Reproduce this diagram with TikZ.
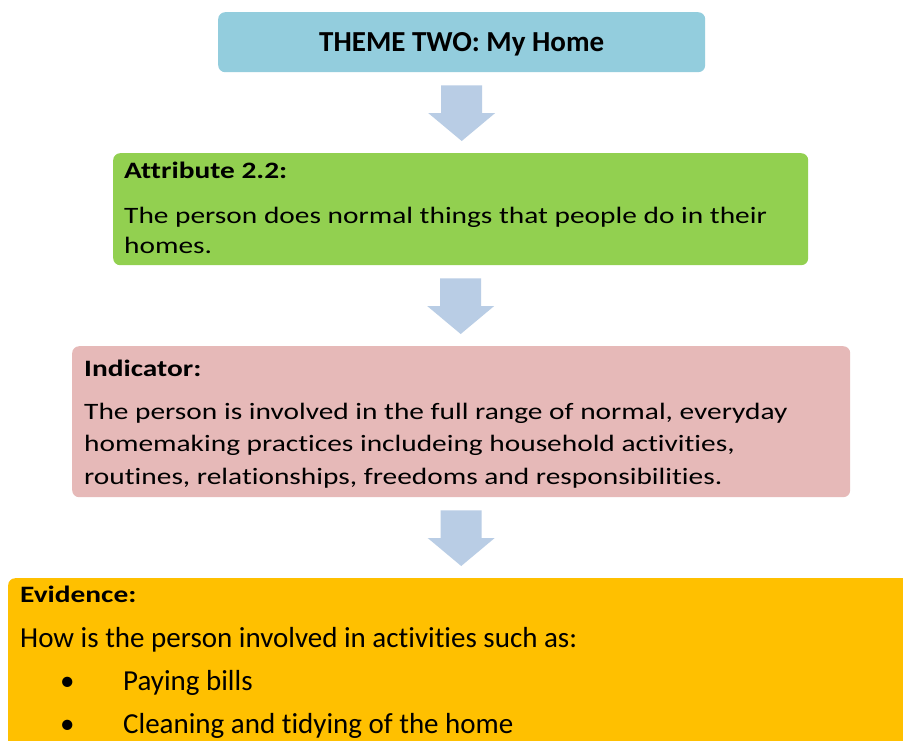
\documentclass[tikz,border=0pt]{standalone}
\usepackage{fontspec}
\setmainfont{Carlito}[Ligatures=NoCommon]
\newfontfamily\widefont{Carlito}[FakeStretch=1.25,Ligatures=NoCommon]
\usetikzlibrary{positioning,calc}
\definecolor{themeblue}{HTML}{93CDDD}
\definecolor{arrowblue}{HTML}{B9CDE5}
\definecolor{attrgreen}{HTML}{92D050}
\definecolor{indpink}{HTML}{E6B9B8}
\definecolor{evidorange}{HTML}{FFC000}
% block arrow from the bottom of one box to the top of the next
\newcommand{\blockarrow}[2]{%
  \fill[arrowblue] let \p1=($(#1.south)+(0,13)$), \p2=($(#2.north)+(0,-12)$) in
    (\x1-20.5pt,\y1) -- (\x1+20.5pt,\y1) -- (\x1+20.5pt,\y2+28pt)
    -- (\x1+33.5pt,\y2+28pt) -- (\x1,\y2) -- (\x1-33.5pt,\y2+28pt)
    -- (\x1-20.5pt,\y2+28pt) -- cycle;}
\begin{document}
\begin{tikzpicture}[x=1pt,y=-1pt,line join=round,
	box/.style={rounded corners=7pt,inner sep=0pt,anchor=north west},
	head/.style={anchor=base west,inner sep=0pt,font=\widefont\bfseries\fontsize{23.5}{30}\selectfont},
	body/.style={anchor=base west,inner sep=0pt,align=left,font=\widefont\fontsize{23.5}{30}\selectfont},
	]
	\useasboundingbox (0,0) rectangle (903,740);
	\clip (0,0) rectangle (903,740);
	\fill[white] (0,0) rectangle (903,740);
	% boxes
	\node[box,fill=themeblue,minimum width=487pt,minimum height=60pt] (theme) at (218,12) {};
	\node[box,fill=attrgreen,minimum width=695pt,minimum height=112pt] (attr) at (113,153) {};
	\node[box,fill=indpink,minimum width=778pt,minimum height=151pt] (ind) at (72,346) {};
	\node[box,fill=evidorange,minimum width=920pt,minimum height=190pt] (evid) at (8,578) {};
	% arrows
	\blockarrow{theme}{attr}
	\blockarrow{attr}{ind}
	\blockarrow{ind}{evid}
	% texts (multi-line nodes sit on the baseline of their last line)
	\node[anchor=base,inner sep=0pt,font=\bfseries\fontsize{29}{35}\selectfont] (themetitle)
		at ($(theme.center)+(0,9)$) {THEME TWO: My Home};
	\node[head] (attrhead) at ($(attr.north west)+(11,25)$) {Attribute 2.2:};
	\node[body] (attrbody) at ($(attr.north west)+(11,100)$)
		{The person does normal things that people do in their\\homes.};
	\node[head] (indhead) at ($(ind.north west)+(12,30)$) {Indicator:};
	\node[body,font=\widefont\fontsize{23.5}{32.5}\selectfont] (indbody) at ($(ind.north west)+(12,138)$)
		{The person is involved in the full range of normal, everyday\\
		homemaking practices includeing household activities,\\
		routines, relationships, freedoms and responsibilities.};
	\node[head] (evidhead) at ($(evid.north west)+(12,24)$) {Evidence:};
	\node[body,font=\fontsize{29}{35}\selectfont] (evidbody) at ($(evid.north west)+(12,155)$)
		{How is the person involved in activities such as:\\[8pt]
		\hspace*{40pt}\makebox[63pt][l]{\textbullet}Paying bills\\[8pt]
		\hspace*{40pt}\makebox[63pt][l]{\textbullet}Cleaning and tidying of the home};
\end{tikzpicture}
\end{document}
